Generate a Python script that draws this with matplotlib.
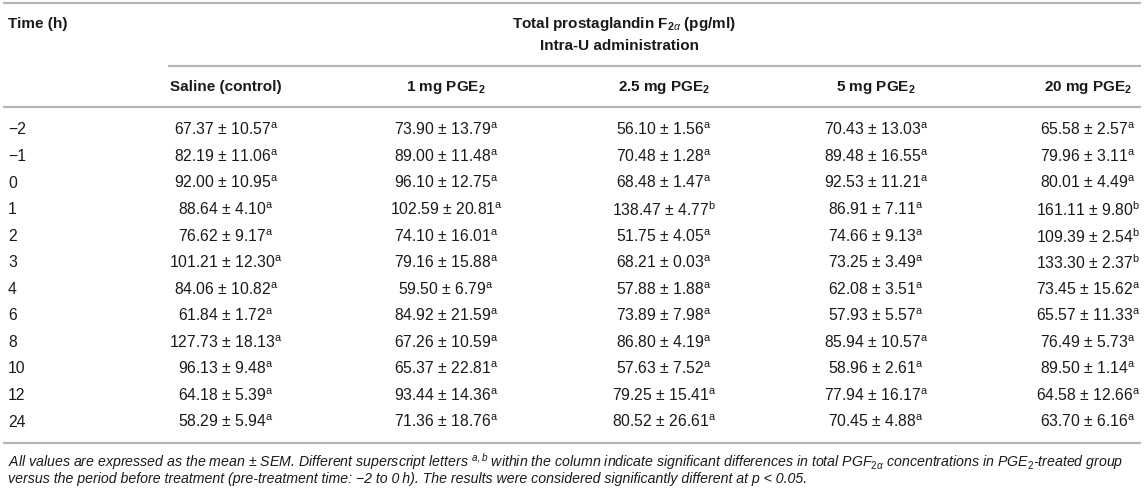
import matplotlib
matplotlib.use("Agg")
import matplotlib.pyplot as plt

# Table data: total PGF2a (pg/ml), mean, SEM and superscript letter per group
times = ["\u22122", "\u22121", "0", "1", "2", "3", "4", "6", "8", "10", "12", "24"]
groups = ["Saline (control)", "1 mg PGE$_\\mathbf{2}$", "2.5 mg PGE$_\\mathbf{2}$",
          "5 mg PGE$_\\mathbf{2}$", "20 mg PGE$_\\mathbf{2}$"]

saline_mean = [67.37, 82.19, 92.00, 88.64, 76.62, 101.21, 84.06, 61.84, 127.73, 96.13, 64.18, 58.29]
saline_sem = [10.57, 11.06, 10.95, 4.10, 9.17, 12.30, 10.82, 1.72, 18.13, 9.48, 5.39, 5.94]
saline_sig = ["a"] * 12

pge1_mean = [73.90, 89.00, 96.10, 102.59, 74.10, 79.16, 59.50, 84.92, 67.26, 65.37, 93.44, 71.36]
pge1_sem = [13.79, 11.48, 12.75, 20.81, 16.01, 15.88, 6.79, 21.59, 10.59, 22.81, 14.36, 18.76]
pge1_sig = ["a"] * 12

pge25_mean = [56.10, 70.48, 68.48, 138.47, 51.75, 68.21, 57.88, 73.89, 86.80, 57.63, 79.25, 80.52]
pge25_sem = [1.56, 1.28, 1.47, 4.77, 4.05, 0.03, 1.88, 7.98, 4.19, 7.52, 15.41, 26.61]
pge25_sig = ["a", "a", "a", "b", "a", "a", "a", "a", "a", "a", "a", "a"]

pge5_mean = [70.43, 89.48, 92.53, 86.91, 74.66, 73.25, 62.08, 57.93, 85.94, 58.96, 77.94, 70.45]
pge5_sem = [13.03, 16.55, 11.21, 7.11, 9.13, 3.49, 3.51, 5.57, 10.57, 2.61, 16.17, 4.88]
pge5_sig = ["a"] * 12

pge20_mean = [65.58, 79.96, 80.01, 161.11, 109.39, 133.30, 73.45, 65.57, 76.49, 89.50, 64.58, 63.70]
pge20_sem = [2.57, 3.11, 4.49, 9.80, 2.54, 2.37, 15.62, 11.33, 5.73, 1.14, 12.66, 6.16]
pge20_sig = ["a", "a", "a", "b", "b", "b", "a", "a", "a", "a", "a", "a"]

means = [saline_mean, pge1_mean, pge25_mean, pge5_mean, pge20_mean]
sems = [saline_sem, pge1_sem, pge25_sem, pge5_sem, pge20_sem]
sigs = [saline_sig, pge1_sig, pge25_sig, pge5_sig, pge20_sig]

footnote = [
    "All values are expressed as the mean \u00b1 SEM. Different superscript letters $^{a,b}$ within the column "
    "indicate significant differences in total PGF$_{2\\alpha}$ concentrations in PGE$_2$-treated group",
    "versus the period before treatment (pre-treatment time: \u22122 to 0\u2009h). The results were considered "
    "significantly different at p < 0.05.",
]

plt.rcParams['font.family'] = ['Liberation Sans', 'DejaVu Sans']
plt.rcParams['mathtext.fontset'] = 'custom'
plt.rcParams['mathtext.rm'] = 'Liberation Sans'
plt.rcParams['mathtext.it'] = 'Liberation Sans:italic'
plt.rcParams['mathtext.bf'] = 'Liberation Sans:bold'

W, H = 1144, 492
fig = plt.figure(figsize=(W / 100, H / 100), dpi=100)
ax = fig.add_axes([0, 0, 1, 1])
ax.set_xlim(0, W)
ax.set_ylim(H, 0)
ax.axis('off')

text_color = '#1a1a1a'
line_color = '#b5b5b5'
fs = 11
fs_val = 11.3

left_x = 8
right_x = 1141
col_x = [226, 446, 664, 876, 1088]
row_y0 = 130
row_step = 26.55

# Rules
ax.hlines(3, 3, right_x, color=line_color, lw=1.6)
ax.hlines(66, 168, right_x, color=line_color, lw=1.6)
ax.hlines(107, 3, right_x, color=line_color, lw=1.6)
ax.hlines(443, 3, right_x, color=line_color, lw=1.6)

# Header
ax.text(left_x, 24, "Time (h)", fontsize=fs, weight='bold', color=text_color, va='center', ha='left')
ax.text(624, 24, "Total prostaglandin F$_{\\mathbf{2}\\alpha}$ (pg/ml)", fontsize=fs, weight='bold',
        color=text_color, va='center', ha='center')
ax.text(620, 46, "Intra-U administration", fontsize=fs, weight='bold', color=text_color,
        va='center', ha='center')
for x, name in zip(col_x, groups):
    ax.text(x, 87, name, fontsize=fs, weight='bold', color=text_color, va='center', ha='center')

# Body
for i, t in enumerate(times):
    y = row_y0 + i * row_step
    ax.text(left_x, y, t, fontsize=fs_val, color=text_color, va='center', ha='left')
    for j, x in enumerate(col_x):
        s = f"{means[j][i]:.2f} \u00b1 {sems[j][i]:.2f}$^{{\\mathrm{{{sigs[j][i]}}}}}$"
        ax.text(x, y, s, fontsize=fs_val, color=text_color, va='center', ha='center')

# Footnote
for k, line in enumerate(footnote):
    ax.text(left_x, 462 + k * 17, line, fontsize=10.2, style='italic', color=text_color,
            va='center', ha='left')

fig.savefig("out.png", dpi=100)
plt.close(fig)
